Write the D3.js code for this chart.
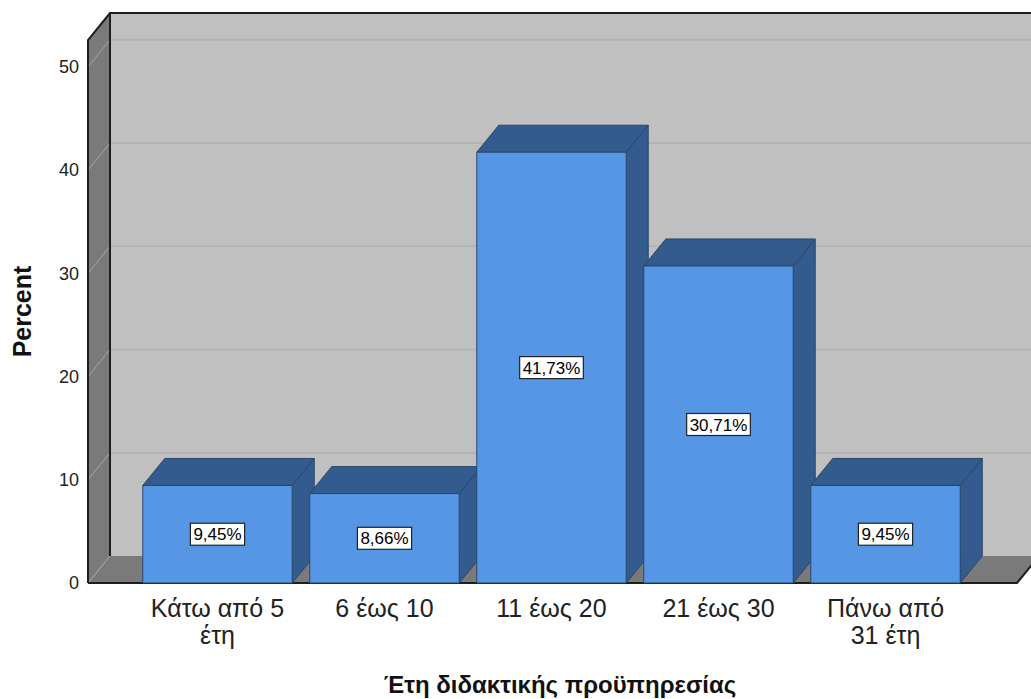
<!DOCTYPE html>
<html>
<head>
<meta charset="utf-8">
<script src="https://cdn.jsdelivr.net/npm/d3@7"></script>
<style>
  html, body { margin: 0; padding: 0; background: #ffffff; }
  svg { display: block; font-family: "Liberation Sans", Arial, sans-serif; }
</style>
</head>
<body>
<svg id="chart" width="1031" height="699"></svg>
<script>
// Years of teaching experience, percent of respondents
const categories = ["Κάτω από 5 έτη", "6 έως 10", "11 έως 20", "21 έως 30", "Πάνω από 31 έτη"];
const percents = [9.45, 8.66, 41.73, 30.71, 9.45];
const yTicks = [0, 10, 20, 30, 40, 50];
const yMax = 52.6;
const yTitle = "Percent";
const xTitle = "Έτη διδακτικής προϋπηρεσίας";

const svg = d3.select("#chart");

// Oblique depth offset of the 3-D frame
const DX = 22, DY = -27;
const plotLeft = 88, plotRight = 1017;

const x = d3.scaleBand()
  .domain(categories)
  .range([134, 969])
  .paddingInner(0.105)
  .paddingOuter(0.0525);

const y = d3.scaleLinear().domain([0, yMax]).range([583, 40]);
const y0 = y(0);

const line = d3.line();

// Back wall
svg.append("rect")
  .attr("x", plotLeft + DX).attr("y", y(yMax) + DY)
  .attr("width", plotRight - plotLeft).attr("height", y0 - y(yMax))
  .attr("fill", "#c0c0c0");

// Back wall grid lines
svg.append("g").selectAll("line")
  .data(yTicks.filter(d => d > 0))
  .join("line")
  .attr("x1", plotLeft + DX).attr("x2", plotRight + DX)
  .attr("y1", d => y(d) + DY).attr("y2", d => y(d) + DY)
  .attr("stroke", "#b3b3b3").attr("stroke-width", 2);

// Left wall
svg.append("path")
  .attr("d", line([[plotLeft, y0], [plotLeft, y(yMax)], [plotLeft + DX, y(yMax) + DY], [plotLeft + DX, y0 + DY]]) + "Z")
  .attr("fill", "#7a7a7a");

// Floor
svg.append("path")
  .attr("d", line([[plotLeft, y0], [plotRight, y0], [plotRight + DX, y0 + DY], [plotLeft + DX, y0 + DY]]) + "Z")
  .attr("fill", "#7a7a7a");

// Left wall grid lines
svg.append("g").selectAll("line")
  .data(yTicks)
  .join("line")
  .attr("x1", plotLeft).attr("x2", plotLeft + DX)
  .attr("y1", d => y(d)).attr("y2", d => y(d) + DY)
  .attr("stroke", "#a6a6a6").attr("stroke-width", 1);

// Frame outlines
const frame = svg.append("g").attr("fill", "none").attr("stroke", "#1e1e1e").attr("stroke-width", 2);
frame.append("path").attr("d", line([[plotLeft, y0], [plotLeft, y(yMax)], [plotLeft + DX, y(yMax) + DY], [plotRight + DX + 20, y(yMax) + DY]]));
frame.append("path").attr("d", line([[plotLeft + DX, y(yMax) + DY], [plotLeft + DX, y0 + DY]]));
frame.append("path").attr("d", line([[plotLeft, y0], [plotRight, y0], [plotRight + DX, y0 + DY]]));

// Bars
const barFront = "#5596e5", barShade = "#345b8e", barEdge = "#2a4769";
const bars = svg.append("g");
categories.forEach((c, i) => {
  const v = percents[i];
  const x0 = x(c), x1 = x(c) + x.bandwidth(), yt = y(v);
  const g = bars.append("g").attr("stroke", barEdge).attr("stroke-width", 1).attr("stroke-linejoin", "round");
  g.append("path")
    .attr("d", line([[x1, yt], [x1 + DX, yt + DY], [x1 + DX, y0 + DY], [x1, y0]]) + "Z")
    .attr("fill", barShade);
  g.append("path")
    .attr("d", line([[x0, yt], [x0 + DX, yt + DY], [x1 + DX, yt + DY], [x1, yt]]) + "Z")
    .attr("fill", barShade);
  g.append("rect")
    .attr("x", x0).attr("y", yt).attr("width", x1 - x0).attr("height", y0 - yt)
    .attr("fill", barFront);
});

// Value labels
const fmt = d3.formatLocale({ decimal: ",", thousands: ".", grouping: [3], currency: ["", "€"] }).format(".2f");
const labels = svg.append("g");
categories.forEach((c, i) => {
  const v = percents[i];
  const cx = x(c) + x.bandwidth() / 2, cy = (y(v) + y0) / 2;
  const g = labels.append("g");
  const t = g.append("text")
    .attr("x", cx).attr("y", cy).attr("dy", "0.36em")
    .attr("text-anchor", "middle").attr("font-size", 17).attr("fill", "#000")
    .text(fmt(v) + "%");
  const w = t.node().getComputedTextLength();
  g.insert("rect", "text")
    .attr("x", cx - w / 2 - 3).attr("y", cy - 11)
    .attr("width", w + 6).attr("height", 22)
    .attr("fill", "#fff").attr("stroke", "#222").attr("stroke-width", 1.2);
});

// Y axis
const yAxis = svg.append("g")
  .attr("transform", `translate(${plotLeft},0)`)
  .call(d3.axisLeft(y).tickValues(yTicks).tickSize(0).tickPadding(9));
yAxis.select(".domain").remove();
yAxis.selectAll("text").attr("font-size", 18).attr("fill", "#222").attr("font-family", "Liberation Sans, Arial, sans-serif");

// Category labels with word wrapping
const xLab = svg.append("g").attr("font-size", 25).attr("fill", "#222").attr("text-anchor", "middle");
const maxLabelWidth = x.bandwidth() * 0.93;
categories.forEach(c => {
  const cx = x(c) + x.bandwidth() / 2;
  const t = xLab.append("text").attr("x", cx).attr("y", 617);
  const words = c.split(" ");
  let lineWords = [];
  let tspan = t.append("tspan").attr("x", cx).attr("dy", 0);
  words.forEach(wd => {
    lineWords.push(wd);
    tspan.text(lineWords.join(" "));
    if (tspan.node().getComputedTextLength() > maxLabelWidth && lineWords.length > 1) {
      lineWords.pop();
      tspan.text(lineWords.join(" "));
      lineWords = [wd];
      tspan = t.append("tspan").attr("x", cx).attr("dy", 27).text(wd);
    }
  });
});

// Axis titles
svg.append("text")
  .attr("transform", `translate(31,${(y0 + y(yMax)) / 2}) rotate(-90)`)
  .attr("text-anchor", "middle").attr("font-size", 25).attr("font-weight", "bold").attr("fill", "#111")
  .text(yTitle);

svg.append("text")
  .attr("x", 560).attr("y", 693)
  .attr("text-anchor", "middle").attr("font-size", 24).attr("font-weight", "bold").attr("fill", "#111")
  .text(xTitle);
</script>
</body>
</html>
